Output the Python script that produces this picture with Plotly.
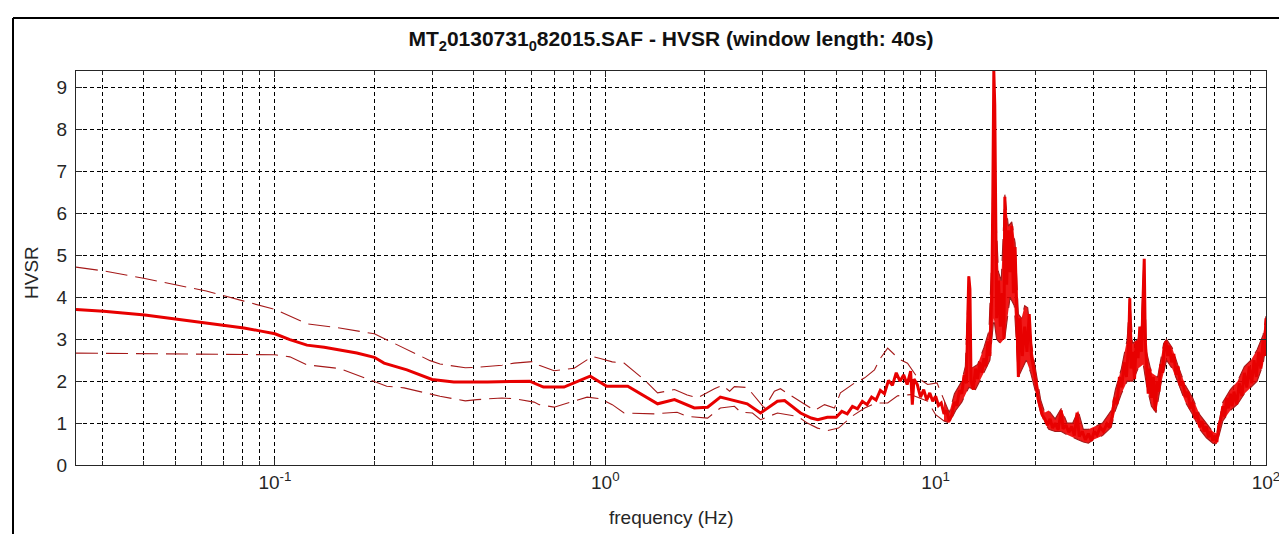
import plotly.graph_objects as go

# ---------------- data ----------------
mean_freq = [0.025, 0.0303, 0.0404, 0.0505, 0.061, 0.0716, 0.0806, 0.09, 0.1, 0.111,
             0.125, 0.141, 0.157, 0.177, 0.2, 0.214, 0.251, 0.299, 0.348, 0.44,
             0.59, 0.65, 0.75, 0.90, 1.01, 1.17, 1.44, 1.62, 1.86, 2.04,
             2.23, 2.46, 2.69, 2.95, 3.32, 3.49, 3.90, 4.20, 4.40, 4.70,
             5.0, 5.2, 5.4, 5.6, 5.8, 6.0, 6.2, 6.4, 6.6, 6.8,
             7.0, 7.2, 7.4, 7.6, 7.8, 8.0, 8.2, 8.4, 8.5, 8.6,
             8.8, 9.0, 9.2, 9.4, 9.6, 9.8, 10.0, 10.2, 10.4, 10.6,
             10.8, 11.0, 11.2, 11.4, 11.6, 11.8, 12.0, 12.2, 12.4, 12.5,
             12.6, 12.7, 12.8, 13.0, 13.2, 13.4, 13.6, 13.8, 14.0, 14.2,
             14.4, 14.6, 14.8, 14.9, 15.0, 15.1, 15.2, 15.3, 15.5, 15.7,
             15.9, 16.1, 16.2, 16.4, 16.6, 16.8, 17.0, 17.2, 17.4, 17.6,
             17.8, 18.0, 18.3, 18.6, 18.9, 19.2, 19.5, 19.8, 20.1, 20.4,
             20.7, 21.0, 21.4, 21.8, 22.2, 22.6, 23.0, 23.5, 24.0, 24.3,
             24.8, 25.3, 25.8, 26.3, 26.8, 27.2, 27.8, 28.4, 29.0, 29.6,
             30.2, 30.8, 31.5, 32.2, 33.0, 33.6, 34.2, 34.8, 35.4, 36.0,
             36.6, 37.2, 37.8, 38.4, 38.7, 39.0, 39.5, 40.0, 40.5, 41.0,
             41.5, 42.0, 42.5, 42.8, 43.1, 43.5, 44.0, 44.5, 45.0, 45.6,
             46.2, 46.8, 47.4, 48.0, 48.6, 49.2, 49.8, 50.4, 51.0, 51.8,
             52.6, 53.4, 54.2, 55.0, 56.0, 57.0, 58.0, 59.0, 60.0, 61.0,
             62.0, 63.0, 64.0, 65.0, 66.0, 67.0, 68.0, 69.0, 70.0, 71.0,
             72.0, 73.0, 74.0, 75.0, 76.0, 77.0, 78.0, 79.0, 80.0, 81.5,
             83.0, 84.5, 86.0, 87.5, 89.0, 90.5, 92.0, 93.5, 95.0, 96.5,
             98.0, 99.0, 100.0]
mean_hvsr = [3.71, 3.67, 3.58, 3.48, 3.39, 3.32, 3.27, 3.20, 3.13, 2.99,
             2.86, 2.81, 2.75, 2.67, 2.57, 2.43, 2.27, 2.04, 1.98, 1.98,
             2.00, 1.86, 1.86, 2.12, 1.88, 1.88, 1.46, 1.56, 1.36, 1.38,
             1.62, 1.54, 1.46, 1.24, 1.52, 1.54, 1.24, 1.12, 1.08, 1.14,
             1.14, 1.28, 1.22, 1.40, 1.34, 1.52, 1.44, 1.62, 1.55, 1.78,
             1.70, 2.02, 1.90, 2.20, 2.00, 2.15, 1.92, 2.24, 1.44, 2.05,
             1.92, 1.62, 1.80, 1.55, 1.72, 1.52, 1.64, 1.42, 1.48, 1.22,
             1.30, 1.05, 1.20, 1.50, 1.42, 1.78, 1.70, 2.15, 1.95, 3.40,
             4.50, 4.20, 2.00, 1.80, 2.30, 2.05, 2.45, 2.20, 2.55, 2.35,
             2.95, 2.60, 4.20, 6.50, 9.40, 8.60, 5.20, 3.50, 4.40, 3.30,
             4.10, 3.00, 6.40, 4.30, 5.60, 4.60, 5.70, 4.10, 5.20, 3.20,
             2.10, 3.50, 2.60, 3.30, 2.70, 3.60, 2.60, 2.30, 2.00, 1.60,
             1.40, 1.20, 1.10, 0.95, 1.10, 0.88, 1.00, 0.84, 1.30, 0.86,
             0.95, 0.78, 0.92, 0.70, 1.25, 0.68, 0.80, 0.60, 0.75, 0.58,
             0.80, 0.72, 0.90, 0.80, 0.98, 0.90, 1.15, 1.60, 1.45, 2.10,
             1.85, 2.45, 2.10, 2.90, 3.98, 2.30, 2.70, 2.05, 2.95, 2.55,
             3.30, 2.70, 4.10, 4.92, 3.00, 2.40, 1.70, 2.30, 1.60, 2.10,
             1.30, 2.00, 1.75, 2.40, 2.20, 2.80, 2.95, 2.60, 2.85, 2.45,
             2.65, 2.15, 2.35, 1.90, 2.00, 1.62, 1.75, 1.35, 1.50, 1.10,
             1.25, 0.90, 1.05, 0.80, 0.92, 0.66, 0.80, 0.58, 0.70, 0.55,
             0.95, 1.10, 1.40, 1.15, 1.60, 1.35, 1.70, 1.40, 1.75, 1.45,
             1.95, 1.65, 2.20, 1.85, 2.35, 1.95, 2.50, 2.10, 2.70, 2.30,
             3.00, 2.60, 3.50]

upper_freq = [0.025, 0.0303, 0.0404, 0.0505, 0.062, 0.0806, 0.1, 0.125, 0.157, 0.2,
              0.218, 0.246, 0.295, 0.316, 0.377, 0.409, 0.487, 0.53, 0.609, 0.631,
              0.70, 0.805, 0.881, 0.914, 0.966, 1.05, 1.14, 1.31, 1.44, 1.62,
              1.77, 1.9, 2.14, 2.26, 2.38, 2.46, 2.69, 2.89, 3.03, 3.25,
              3.39, 3.64, 4.01, 4.3, 4.61, 4.94, 5.15, 5.69, 6.1, 6.53,
              6.81, 7.16, 7.51, 7.83, 8.22, 8.82, 9.46, 10.1, 10.6, 11.0,
              11.4, 12.0, 12.3, 12.6, 12.8, 13.4, 14.0, 14.5, 14.8, 15.0,
              15.2, 15.5, 15.8, 16.2, 16.6, 17.0, 17.4, 17.8, 18.2, 18.6,
              19.0, 19.5, 20.0, 20.8, 21.4, 22.0, 23.0, 24.0, 25.0, 26.0,
              27.0, 28.0, 29.0, 30.0, 32.0, 34.0, 35.0, 36.5, 38.0, 38.7,
              39.5, 41.0, 42.0, 42.7, 43.5, 45.0, 47.0, 49.0, 50.0, 52.0,
              54.0, 57.0, 60.0, 63.0, 66.0, 69.0, 71.0, 74.0, 78.0, 82.0,
              86.0, 90.0, 94.0, 98.0, 100.0]
upper_hvsr = [4.72, 4.63, 4.45, 4.30, 4.15, 3.91, 3.71, 3.37, 3.27, 3.13,
              2.99, 2.79, 2.49, 2.41, 2.32, 2.33, 2.38, 2.43, 2.47, 2.38,
              2.25, 2.31, 2.51, 2.59, 2.54, 2.46, 2.43, 2.04, 1.72, 1.80,
              1.67, 1.60, 1.82, 1.90, 1.76, 1.87, 1.85, 1.56, 1.36, 1.76,
              1.82, 1.66, 1.44, 1.30, 1.44, 1.36, 1.72, 1.96, 2.08, 2.27,
              2.55, 2.79, 2.63, 2.51, 2.43, 2.08, 1.92, 1.96, 1.55, 1.25,
              1.70, 2.00, 2.35, 4.50, 2.30, 2.40, 2.80, 3.20, 5.00, 9.00,
              6.00, 4.60, 4.40, 6.45, 5.70, 5.80, 5.30, 3.60, 3.50, 3.80,
              3.75, 2.90, 2.35, 1.55, 1.25, 1.30, 1.10, 1.35, 1.00, 1.00,
              1.30, 0.85, 0.85, 0.90, 1.00, 1.30, 1.80, 2.30, 3.00, 4.00,
              2.90, 3.00, 3.40, 4.90, 2.70, 2.20, 2.10, 2.90, 3.00, 2.80,
              2.40, 1.90, 1.60, 1.20, 1.00, 0.80, 0.75, 1.50, 1.80, 2.00,
              2.35, 2.50, 2.75, 3.10, 3.55]

lower_freq = [0.025, 0.1, 0.111, 0.125, 0.157, 0.177, 0.2, 0.218, 0.246, 0.295,
              0.316, 0.377, 0.409, 0.487, 0.53, 0.609, 0.631, 0.70, 0.805, 0.881,
              0.966, 1.05, 1.14, 1.41, 1.65, 1.77, 2.04, 2.23, 2.46, 2.57,
              2.79, 2.95, 3.32, 3.82, 4.09, 4.39, 4.71, 5.08, 5.6, 6.1,
              6.6, 7.16, 7.67, 8.4, 9.46, 10.0, 10.6, 11.0, 11.5, 12.0,
              12.6, 13.2, 14.0, 14.6, 15.0, 15.3, 15.7, 16.2, 16.8, 17.3,
              17.8, 18.3, 18.8, 19.4, 20.0, 20.8, 21.4, 22.0, 23.0, 24.0,
              25.0, 26.0, 27.0, 28.0, 29.0, 30.0, 32.0, 34.0, 35.0, 36.5,
              38.0, 39.5, 41.0, 42.5, 43.5, 45.0, 46.5, 48.0, 50.0, 52.0,
              54.0, 57.0, 60.0, 63.0, 66.0, 69.0, 71.0, 74.0, 78.0, 82.0,
              86.0, 90.0, 94.0, 98.0, 100.0]
lower_hvsr = [2.67, 2.63, 2.58, 2.39, 2.30, 2.14, 1.98, 1.88, 1.84, 1.69,
              1.64, 1.53, 1.56, 1.60, 1.58, 1.50, 1.44, 1.38, 1.52, 1.62,
              1.58, 1.44, 1.24, 1.22, 1.26, 1.16, 1.12, 1.36, 1.40, 1.26,
              1.24, 1.08, 1.24, 1.16, 1.00, 0.88, 0.82, 0.88, 1.17, 1.36,
              1.48, 1.48, 1.65, 1.68, 1.52, 1.20, 1.05, 1.00, 1.30, 1.50,
              1.85, 1.80, 2.20, 2.50, 3.50, 3.00, 2.90, 3.03, 4.00, 3.80,
              2.10, 2.30, 2.50, 2.20, 1.80, 1.25, 1.00, 0.85, 0.80, 0.80,
              0.72, 0.65, 0.60, 0.55, 0.52, 0.60, 0.70, 0.90, 1.30, 1.70,
              2.00, 2.00, 2.30, 2.40, 1.90, 1.40, 1.25, 1.90, 2.50, 2.30,
              2.00, 1.50, 1.20, 0.85, 0.65, 0.52, 0.50, 1.05, 1.30, 1.45,
              1.70, 1.85, 2.00, 2.40, 2.90]

x_major_ticks = [0.1, 1, 10, 100]
x_major_labels = ["10<sup>-1</sup>", "10<sup>0</sup>", "10<sup>1</sup>", "10<sup>2</sup>"]
x_minor_ticks = [0.03, 0.04, 0.05, 0.06, 0.07, 0.08, 0.09,
                 0.2, 0.3, 0.4, 0.5, 0.6, 0.7, 0.8, 0.9,
                 2, 3, 4, 5, 6, 7, 8, 9,
                 20, 30, 40, 50, 60, 70, 80, 90]
y_ticks = [0, 1, 2, 3, 4, 5, 6, 7, 8, 9]

title_text = "<b>MT<sub>2</sub>0130731<sub>0</sub>82015.SAF - HVSR (window length: 40s)</b>"

# ---------------- figure ----------------
W, H = 1287, 534
ML, MR, MT, MB = 68, 29, 63, 77
FONT = "Liberation Sans, Arial, sans-serif"
thin_color = "rgb(165,25,25)"
mean_color = "rgb(232,0,0)"
band_start = 10.5  # above this frequency the three curves merge into a dense band

# dense high-frequency band between the lower and upper curves
band_up_f = [f for f in upper_freq if f >= band_start]
band_up_v = [v for f, v in zip(upper_freq, upper_hvsr) if f >= band_start]
band_lo_f = [f for f in lower_freq if f >= band_start]
band_lo_v = [v for f, v in zip(lower_freq, lower_hvsr) if f >= band_start]

fig = go.Figure()
fig.add_trace(go.Scatter(x=band_up_f + band_lo_f[::-1], y=band_up_v + band_lo_v[::-1],
                         mode="lines", fill="toself", fillcolor="rgba(238,0,0,0.9)",
                         line=dict(width=0), showlegend=False, hoverinfo="skip"))
fig.add_trace(go.Scatter(x=upper_freq, y=upper_hvsr, mode="lines",
                         line=dict(color=thin_color, width=1.1, dash="22px,8px"),
                         showlegend=False, hoverinfo="skip"))
fig.add_trace(go.Scatter(x=lower_freq, y=lower_hvsr, mode="lines",
                         line=dict(color=thin_color, width=1.1, dash="22px,8px"),
                         showlegend=False, hoverinfo="skip"))
fig.add_trace(go.Scatter(x=mean_freq, y=mean_hvsr, mode="lines",
                         line=dict(color=mean_color, width=3),
                         showlegend=False, hoverinfo="skip"))

axis_common = dict(
    showline=True, linecolor="#262626", linewidth=1, mirror="allticks",
    ticks="inside", tickcolor="#262626", ticklen=6,
    showgrid=True, gridcolor="#000000", gridwidth=1, griddash="4px,3px",
    zeroline=False,
    tickfont=dict(family=FONT, size=19, color="#262626"),
)

fig.update_xaxes(type="log", range=[-1.60206, 2.0],
                 tickmode="array", tickvals=x_major_ticks, ticktext=x_major_labels,
                 minor=dict(tickmode="array", tickvals=x_minor_ticks, ticks="inside",
                            ticklen=4, tickcolor="#262626", showgrid=True,
                            gridcolor="#000000", gridwidth=1, griddash="4px,3px"),
                 **axis_common)
fig.update_yaxes(range=[0, 9.4], tickmode="array", tickvals=y_ticks,
                 ticklabelstandoff=4, **axis_common)

# outer frame (left and top edge of the original window)
def px_to_paper_x(px):
    return (px - ML) / (W - ML - MR)

def px_to_paper_y(py):
    return (H - MB - py) / (H - MT - MB)

fig.add_shape(type="line", xref="paper", yref="paper",
              x0=px_to_paper_x(5), x1=px_to_paper_x(5),
              y0=px_to_paper_y(10), y1=px_to_paper_y(540),
              line=dict(color="black", width=2))
fig.add_shape(type="line", xref="paper", yref="paper",
              x0=px_to_paper_x(5), x1=px_to_paper_x(1295),
              y0=px_to_paper_y(10), y1=px_to_paper_y(10),
              line=dict(color="black", width=2))

fig.add_annotation(text="frequency (Hz)", xref="paper", yref="paper",
                   x=0.5, y=px_to_paper_y(509), xanchor="center", yanchor="middle",
                   showarrow=False, font=dict(family=FONT, size=19, color="#262626"))
fig.add_annotation(text="HVSR", xref="paper", yref="paper",
                   x=px_to_paper_x(23), y=px_to_paper_y(265), xanchor="center",
                   yanchor="middle", textangle=-90, showarrow=False,
                   font=dict(family=FONT, size=19, color="#262626"))

fig.update_layout(
    width=W, height=H, autosize=False,
    margin=dict(l=ML, r=MR, t=MT, b=MB),
    paper_bgcolor="white", plot_bgcolor="white",
    title=dict(text=title_text, x=0.5, xref="paper", xanchor="center",
               y=1 - 31 / H, yref="container", yanchor="middle",
               font=dict(family=FONT, size=21, color="#111111")),
    showlegend=False,
)

fig.write_html("out.html")
